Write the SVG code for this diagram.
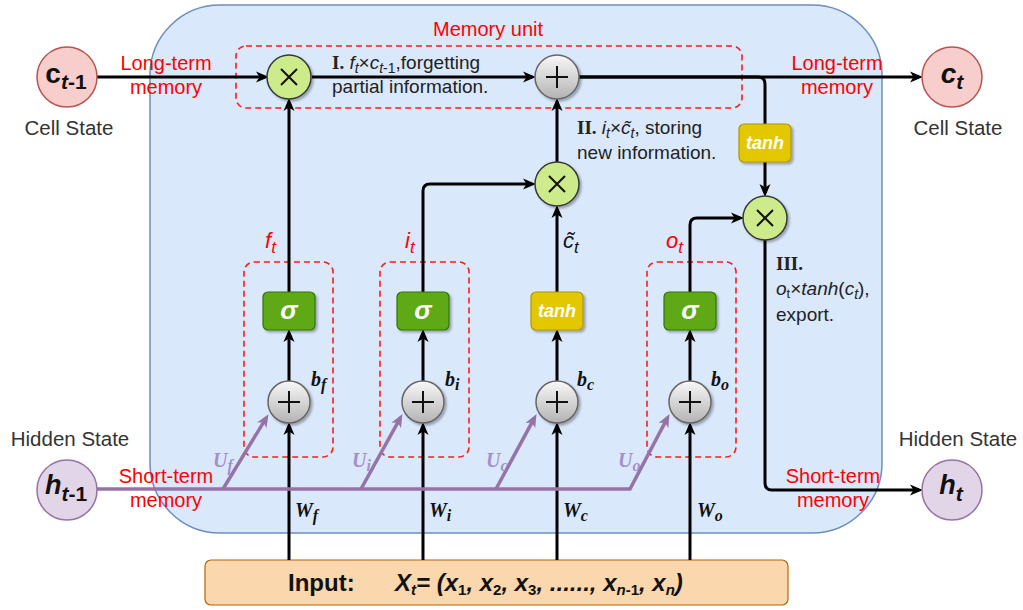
<svg xmlns="http://www.w3.org/2000/svg" width="1023" height="610" viewBox="0 0 1023 610">
<style>
.sans{font-family:"Liberation Sans",Arial,sans-serif}
.serif{font-family:"Liberation Serif","Times New Roman",serif}
.lbl{font-family:"Liberation Sans",Arial,sans-serif;font-size:20.5px;fill:#333333;text-anchor:middle}
.red{font-family:"Liberation Sans",Arial,sans-serif;font-size:20px;fill:#ff0000;text-anchor:middle}
.gate{font-family:"Liberation Sans",Arial,sans-serif;font-size:22px;fill:#ff0000;font-style:italic}
.ann{font-family:"Liberation Sans",Arial,sans-serif;font-size:19px;fill:#222222}
.rom{font-family:"Liberation Serif","Times New Roman",serif;font-weight:bold}
.wt{font-family:"Liberation Serif","Times New Roman",serif;font-size:20px;font-weight:bold;font-style:italic;fill:#111111}
.ut{font-family:"Liberation Serif","Times New Roman",serif;font-size:20px;font-weight:bold;font-style:italic;fill:#a58fc8}
.circ{font-family:"Liberation Sans",Arial,sans-serif;font-weight:bold;fill:#111111;text-anchor:middle}
.dash{fill:none;stroke:#ff1a1a;stroke-width:1.6;stroke-dasharray:6 4}
.blk{fill:none;stroke:#000000;stroke-width:3}
.pur{fill:none;stroke:#9673a6;stroke-width:3.5}
.mul{fill:#cdeb8b;stroke:#36393d;stroke-width:1.5;filter:url(#sh)}
.add{fill:url(#gg);stroke:#666666;stroke-width:1.5;filter:url(#sh)}
.sym{stroke:#111111;stroke-width:2;fill:none}
.sig{fill:#60a917;stroke:#2d7600;stroke-width:1.2;filter:url(#sh)}
.tnh{fill:#e3c800;stroke:#b09500;stroke-width:1.2;filter:url(#sh)}
.wtxt{font-family:"Liberation Sans",Arial,sans-serif;font-weight:bold;font-style:italic;fill:#ffffff;text-anchor:middle}
</style>
<defs>
<filter id="sh" x="-30%" y="-30%" width="170%" height="170%">
<feDropShadow dx="2" dy="2" stdDeviation="1.2" flood-color="#000000" flood-opacity="0.3"/>
</filter>
<linearGradient id="gg" x1="0" y1="0" x2="0" y2="1">
<stop offset="0" stop-color="#f8f8f8"/>
<stop offset="1" stop-color="#b3b3b3"/>
</linearGradient>
<marker id="ah" markerUnits="userSpaceOnUse" markerWidth="14" markerHeight="12" refX="9" refY="6" orient="auto">
<path d="M0,0.5 L13,6 L0,11.5 L3.5,6 Z" fill="#000000"/>
</marker>
<marker id="ap" markerUnits="userSpaceOnUse" markerWidth="14" markerHeight="12" refX="9" refY="6" orient="auto">
<path d="M0,0.5 L13,6 L0,11.5 L3.5,6 Z" fill="#9673a6"/>
</marker>
</defs>

<rect width="1023" height="610" fill="#ffffff"/>

<g id="container">
<rect x="150" y="5" width="732" height="528" rx="70" ry="70" fill="#dae8fc" stroke="#6c8ebf" stroke-width="1.5"/>
</g>

<g id="memory-unit">
<rect class="dash" x="236" y="46" width="506" height="62" rx="10"/>
<text class="red" x="488" y="36" font-size="21">Memory unit</text>
</g>

<g id="gate-boxes">
<rect class="dash" x="244" y="262" width="89" height="195" rx="10"/>
<rect class="dash" x="380" y="262" width="89" height="195" rx="10"/>
<rect class="dash" x="647" y="262" width="89" height="195" rx="10"/>
</g>

<g id="input">
<rect x="205" y="560" width="583" height="45" rx="6" fill="#fad7ac" stroke="#b46504" stroke-width="1.2"/>
<text class="sans" x="288" y="591" font-size="24" font-weight="bold" fill="#111111">Input:</text>
<text class="sans" x="395" y="591" font-size="24" font-weight="bold" font-style="italic" fill="#111111">X<tspan font-size="15" dy="4">t</tspan><tspan dy="-4">= (x</tspan><tspan font-size="15" dy="4" font-style="normal">1</tspan><tspan dy="-4">, x</tspan><tspan font-size="15" dy="4" font-style="normal">2</tspan><tspan dy="-4">, x</tspan><tspan font-size="15" dy="4" font-style="normal">3</tspan><tspan dy="-4">, ......, x</tspan><tspan font-size="15" dy="4">n<tspan font-style="normal">-1</tspan></tspan><tspan dy="-4">, x</tspan><tspan font-size="15" dy="4">n</tspan><tspan dy="-4">)</tspan></text>
</g>

<g id="connectors">
<path class="blk" d="M97,77 L265,77" marker-end="url(#ah)"/>
<path class="blk" d="M312,77 L532,77" marker-end="url(#ah)"/>
<path class="blk" d="M579,77 L919,77" marker-end="url(#ah)"/>
<path class="blk" d="M579,77 L758,77 Q765,77 765,84 L765,124"/>
<path class="blk" d="M765,162 L765,193" marker-end="url(#ah)"/>
<path class="blk" d="M765,240 L765,483 Q765,490 772,490 L919,490" marker-end="url(#ah)"/>
<path class="blk" d="M289,292 L289,102" marker-end="url(#ah)"/>
<path class="blk" d="M423,292 L423,191 Q423,184 430,184 L532,184" marker-end="url(#ah)"/>
<path class="blk" d="M557,292 L557,209" marker-end="url(#ah)"/>
<path class="blk" d="M557,162 L557,102" marker-end="url(#ah)"/>
<path class="blk" d="M690,292 L690,225 Q690,218 697,218 L740,218" marker-end="url(#ah)"/>
<path class="blk" d="M289,381 L289,333" marker-end="url(#ah)"/>
<path class="blk" d="M423,381 L423,333" marker-end="url(#ah)"/>
<path class="blk" d="M557,381 L557,333" marker-end="url(#ah)"/>
<path class="blk" d="M690,381 L690,333" marker-end="url(#ah)"/>
<path class="blk" d="M289,560 L289,426" marker-end="url(#ah)"/>
<path class="blk" d="M423,560 L423,426" marker-end="url(#ah)"/>
<path class="blk" d="M557,560 L557,426" marker-end="url(#ah)"/>
<path class="blk" d="M690,560 L690,426" marker-end="url(#ah)"/>
<path class="pur" d="M97,489 L630,489 L667.6,417.6" marker-end="url(#ap)"/>
<path class="pur" d="M223,489 L266.4,417.6" marker-end="url(#ap)"/>
<path class="pur" d="M361,489 L400.5,417.6" marker-end="url(#ap)"/>
<path class="pur" d="M496,489 L534.6,417.6" marker-end="url(#ap)"/>
</g>

<g id="c-prev">
<circle cx="67" cy="77" r="30" fill="#f8cecc" stroke="#b85450" stroke-width="1.5"/>
<text class="circ" x="66" y="83" font-size="28">c<tspan font-size="21" dy="6"><tspan font-style="italic">t</tspan>-1</tspan></text>
<text class="lbl" x="69" y="135">Cell State</text>
</g>
<g id="c-next">
<circle cx="952" cy="77" r="30" fill="#f8cecc" stroke="#b85450" stroke-width="1.5"/>
<text class="circ" x="952" y="83" font-size="28" font-style="italic">c<tspan font-size="21" dy="6">t</tspan></text>
<text class="lbl" x="958" y="135">Cell State</text>
</g>
<g id="h-prev">
<circle cx="67" cy="490" r="30" fill="#e1d5e7" stroke="#9673a6" stroke-width="1.5"/>
<text class="circ" x="66" y="494" font-size="27"><tspan font-style="italic">h</tspan><tspan font-size="21" dy="7"><tspan font-style="italic">t</tspan>-1</tspan></text>
<text class="lbl" x="70" y="446">Hidden State</text>
</g>
<g id="h-next">
<circle cx="952" cy="490" r="30" fill="#e1d5e7" stroke="#9673a6" stroke-width="1.5"/>
<text class="circ" x="951" y="494" font-size="27" font-style="italic">h<tspan font-size="21" dy="7">t</tspan></text>
<text class="lbl" x="958" y="446">Hidden State</text>
</g>

<g id="mult-forget">
<circle class="mul" cx="289" cy="77" r="22"/>
<path class="sym" d="M281,69 L297,85 M297,69 L281,85"/>
</g>
<g id="add-cell">
<circle class="add" cx="557" cy="77" r="22"/>
<path class="sym" d="M546,77 L568,77 M557,66 L557,88"/>
</g>
<g id="mult-input">
<circle class="mul" cx="557" cy="184" r="22"/>
<path class="sym" d="M549,176 L565,192 M565,176 L549,192"/>
</g>
<g id="mult-output">
<circle class="mul" cx="765" cy="218" r="22"/>
<path class="sym" d="M757,210 L773,226 M773,210 L757,226"/>
</g>
<g id="tanh-cell">
<rect class="tnh" x="739" y="124" width="52" height="38" rx="5"/>
<text class="wtxt" x="765" y="149" font-size="18">tanh</text>
</g>

<g id="forget-gate">
<rect class="sig" x="263" y="292" width="52" height="38" rx="5"/>
<text class="wtxt" x="289" y="319" font-size="26">σ</text>
<circle class="add" cx="289" cy="402" r="21"/>
<path class="sym" d="M278,402 L300,402 M289,391 L289,413"/>
<text class="gate" x="265" y="248">f<tspan font-size="17" dy="5">t</tspan></text>
<text class="wt" x="311" y="386">b<tspan font-size="16" dy="4">f</tspan></text>
<text class="wt" x="295" y="517">W<tspan font-size="16" dy="4">f</tspan></text>
<text class="ut" x="213" y="467">U<tspan font-size="16" dy="4">f</tspan></text>
</g>
<g id="input-gate">
<rect class="sig" x="397" y="292" width="52" height="38" rx="5"/>
<text class="wtxt" x="423" y="319" font-size="26">σ</text>
<circle class="add" cx="423" cy="402" r="21"/>
<path class="sym" d="M412,402 L434,402 M423,391 L423,413"/>
<text class="gate" x="405" y="248">i<tspan font-size="17" dy="5">t</tspan></text>
<text class="wt" x="445" y="386">b<tspan font-size="16" dy="4">i</tspan></text>
<text class="wt" x="429" y="517">W<tspan font-size="16" dy="4">i</tspan></text>
<text class="ut" x="352" y="467">U<tspan font-size="16" dy="4">i</tspan></text>
</g>
<g id="candidate">
<rect class="tnh" x="531" y="292" width="52" height="38" rx="5"/>
<text class="wtxt" x="557" y="317" font-size="18">tanh</text>
<circle class="add" cx="557" cy="402" r="21"/>
<path class="sym" d="M546,402 L568,402 M557,391 L557,413"/>
<text class="sans" x="563" y="248" font-size="22" font-style="italic" fill="#111111">c̃<tspan font-size="17" dy="5">t</tspan></text>
<text class="wt" x="577" y="386">b<tspan font-size="16" dy="4">c</tspan></text>
<text class="wt" x="563" y="517">W<tspan font-size="16" dy="4">c</tspan></text>
<text class="ut" x="486" y="467">U<tspan font-size="16" dy="4">c</tspan></text>
</g>
<g id="output-gate">
<rect class="sig" x="664" y="292" width="52" height="38" rx="5"/>
<text class="wtxt" x="690" y="319" font-size="26">σ</text>
<circle class="add" cx="690" cy="402" r="21"/>
<path class="sym" d="M679,402 L701,402 M690,391 L690,413"/>
<text class="gate" x="666" y="248">o<tspan font-size="17" dy="5">t</tspan></text>
<text class="wt" x="711" y="386">b<tspan font-size="16" dy="4">o</tspan></text>
<text class="wt" x="697" y="517">W<tspan font-size="16" dy="4">o</tspan></text>
<text class="ut" x="618" y="467">U<tspan font-size="16" dy="4">o</tspan></text>
</g>

<g id="labels">
<text class="red" x="166" y="70">Long-term</text>
<text class="red" x="166" y="94">memory</text>
<text class="red" x="837" y="70">Long-term</text>
<text class="red" x="837" y="94">memory</text>
<text class="red" x="166" y="483">Short-term</text>
<text class="red" x="166" y="507">memory</text>
<text class="red" x="833" y="483">Short-term</text>
<text class="red" x="833" y="507">memory</text>
<text class="ann" x="332" y="69"><tspan class="rom">I.</tspan> <tspan font-style="italic">f</tspan><tspan font-size="14" dy="4" font-style="italic">t</tspan><tspan dy="-4">×</tspan><tspan font-style="italic">c</tspan><tspan font-size="14" dy="4"><tspan font-style="italic">t</tspan>-1</tspan><tspan dy="-4">,forgetting</tspan></text>
<text class="ann" x="332" y="93">partial information.</text>
<text class="ann" x="577" y="134"><tspan class="rom">II.</tspan> <tspan font-style="italic">i</tspan><tspan font-size="14" dy="4" font-style="italic">t</tspan><tspan dy="-4">×</tspan><tspan font-style="italic">c̃</tspan><tspan font-size="14" dy="4" font-style="italic">t</tspan><tspan dy="-4">, storing</tspan></text>
<text class="ann" x="577" y="159">new information.</text>
<text class="ann" x="776" y="270"><tspan class="rom">III.</tspan></text>
<text class="ann" x="776" y="295"><tspan font-style="italic">o</tspan><tspan font-size="13" dy="3">t</tspan><tspan dy="-3">×</tspan><tspan font-style="italic">tanh</tspan>(<tspan font-style="italic">c</tspan><tspan font-size="14" dy="4" font-style="italic">t</tspan><tspan dy="-4">),</tspan></text>
<text class="ann" x="776" y="321">export.</text>
</g>
</svg>
